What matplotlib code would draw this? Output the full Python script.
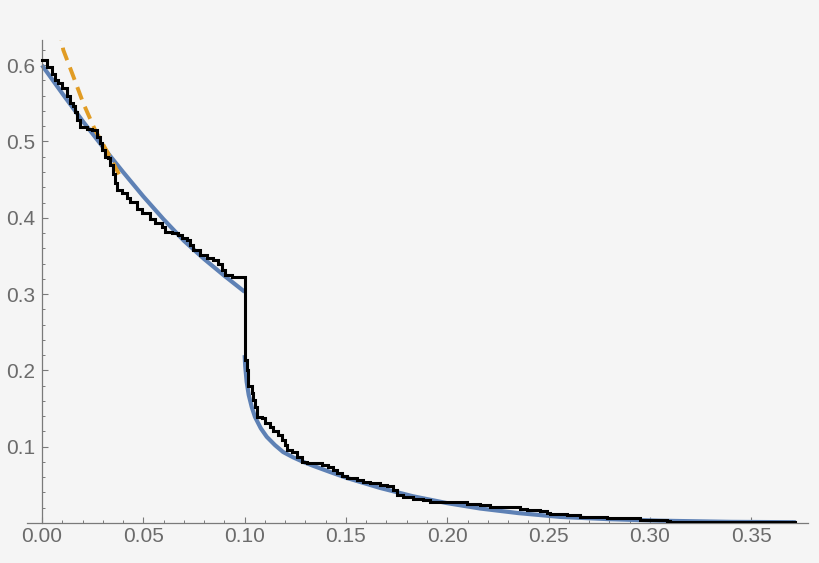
import matplotlib
matplotlib.use("Agg")
import matplotlib.pyplot as plt
from matplotlib.ticker import MultipleLocator, FixedLocator

# ---- data ----
blue_left_x = [0.00, 0.01, 0.02, 0.03, 0.04, 0.05, 0.06, 0.07, 0.08, 0.09, 0.10]
blue_left_y = [0.600, 0.563, 0.527, 0.493, 0.460, 0.428, 0.398, 0.370, 0.346, 0.324, 0.303]

blue_right_x = [0.1000, 0.1003, 0.1010, 0.1020, 0.1035, 0.1051, 0.1080, 0.1109, 0.1150,
                0.1190, 0.1240, 0.1290, 0.1338, 0.1420, 0.1505, 0.1668, 0.1831, 0.2000,
                0.2162, 0.2350, 0.2557, 0.2800, 0.3050, 0.3400, 0.3720]
blue_right_y = [0.220, 0.205, 0.185, 0.168, 0.152, 0.139, 0.124, 0.113, 0.102,
                0.093, 0.086, 0.080, 0.075, 0.067, 0.059, 0.046, 0.035, 0.026,
                0.019, 0.013, 0.008, 0.005, 0.003, 0.0015, 0.001]

orange_x = [0.0085, 0.0105, 0.0155, 0.0204, 0.0262, 0.0327, 0.0380]
orange_y = [0.650, 0.620, 0.585, 0.550, 0.515, 0.484, 0.457]

black_x = [0.0000, 0.0023, 0.0048, 0.0064, 0.0080, 0.0097, 0.0122, 0.0138, 0.0155, 0.0163,
           0.0171, 0.0188, 0.0221, 0.0245, 0.0270, 0.0286, 0.0295, 0.0311, 0.0327, 0.0336,
           0.0352, 0.0360, 0.0369, 0.0393, 0.0418, 0.0434, 0.0467, 0.0492, 0.0533, 0.0558,
           0.0591, 0.0607, 0.0640, 0.0673, 0.0690, 0.0714, 0.0731, 0.0747, 0.0780, 0.0813,
           0.0846, 0.0870, 0.0887, 0.0903, 0.0936, 0.0986, 0.1002, 0.1002, 0.1010, 0.1018,
           0.1035, 0.1043, 0.1051, 0.1060, 0.1084, 0.1101, 0.1125, 0.1142, 0.1166, 0.1183,
           0.1199, 0.1208, 0.1236, 0.1257, 0.1282, 0.1306, 0.1339, 0.1381, 0.1413, 0.1438,
           0.1455, 0.1479, 0.1504, 0.1553, 0.1586, 0.1619, 0.1668, 0.1701, 0.1734, 0.1751,
           0.1783, 0.1833, 0.1882, 0.1915, 0.1964, 0.2030, 0.2096, 0.2162, 0.2211, 0.2359,
           0.2392, 0.2458, 0.2491, 0.2507, 0.2590, 0.2655, 0.2754, 0.2787, 0.2935, 0.2952,
           0.3085, 0.3100, 0.3717]
black_y = [0.607, 0.598, 0.589, 0.581, 0.576, 0.570, 0.559, 0.550, 0.546, 0.539,
           0.528, 0.519, 0.517, 0.515, 0.506, 0.498, 0.489, 0.480, 0.478, 0.469,
           0.458, 0.445, 0.437, 0.432, 0.426, 0.421, 0.412, 0.406, 0.399, 0.393,
           0.388, 0.382, 0.380, 0.377, 0.373, 0.371, 0.364, 0.358, 0.351, 0.347,
           0.345, 0.340, 0.332, 0.325, 0.323, 0.323, 0.316, 0.214, 0.200, 0.179,
           0.170, 0.161, 0.152, 0.139, 0.137, 0.131, 0.126, 0.120, 0.115, 0.109,
           0.102, 0.096, 0.093, 0.087, 0.080, 0.078, 0.078, 0.076, 0.074, 0.070,
           0.065, 0.061, 0.059, 0.057, 0.054, 0.052, 0.050, 0.048, 0.043, 0.037,
           0.034, 0.032, 0.030, 0.028, 0.028, 0.027, 0.025, 0.024, 0.021, 0.019,
           0.017, 0.016, 0.013, 0.012, 0.0105, 0.0083, 0.0074, 0.0061, 0.0061, 0.0035,
           0.0030, 0.0018, 0.0015]

x_ticks = [0.00, 0.05, 0.10, 0.15, 0.20, 0.25, 0.30, 0.35]
y_ticks = [0.1, 0.2, 0.3, 0.4, 0.5, 0.6]

# ---- style ----
bg = "#f5f5f5"
axis_col = "#7a7a7a"
label_col = "#6b6b6b"
blue = "#5e81b5"
orange = "#e19c24"

plt.rcParams["font.family"] = ["Liberation Sans", "DejaVu Sans"]

fig = plt.figure(figsize=(8.2, 5.63), dpi=100, facecolor=bg)
ax = fig.add_axes([27 / 820, 1 - 523 / 563, (808 - 27) / 820, (523 - 40) / 563])
ax.set_facecolor(bg)

ax.plot(blue_left_x, blue_left_y, color=blue, lw=3.0, solid_capstyle="butt", zorder=2)
ax.plot(blue_right_x, blue_right_y, color=blue, lw=3.0, solid_capstyle="butt", zorder=2)
ax.plot(orange_x, orange_y, color=orange, lw=2.8, ls=(0, (3.4, 2.0)), zorder=3)
ax.plot(black_x, black_y, color="black", lw=2.2, drawstyle="steps-post",
        solid_joinstyle="miter", zorder=4)

ax.set_xlim(-0.0074, 0.378)
ax.set_ylim(0, 0.633)

for s in ["top", "right"]:
    ax.spines[s].set_visible(False)
ax.spines["left"].set_position(("data", 0))
ax.spines["bottom"].set_position(("data", 0))
for s in ["left", "bottom"]:
    ax.spines[s].set_color(axis_col)
    ax.spines[s].set_linewidth(0.9)

ax.xaxis.set_major_locator(FixedLocator(x_ticks))
ax.yaxis.set_major_locator(FixedLocator(y_ticks))
ax.xaxis.set_minor_locator(MultipleLocator(0.01))
ax.yaxis.set_minor_locator(MultipleLocator(0.02))
ax.set_xticklabels([f"{v:.2f}" for v in x_ticks])
ax.set_yticklabels([f"{v:.1f}" for v in y_ticks])

ax.tick_params(axis="both", which="major", direction="in", length=4.0, width=0.8,
               color=axis_col, labelcolor=label_col, labelsize=15)
ax.tick_params(axis="both", which="minor", direction="in", length=2.4, width=0.7,
               color=axis_col)
ax.tick_params(axis="x", which="major", pad=3)
ax.tick_params(axis="y", which="major", pad=5)

fig.savefig("out.png", dpi=100, facecolor=bg)
